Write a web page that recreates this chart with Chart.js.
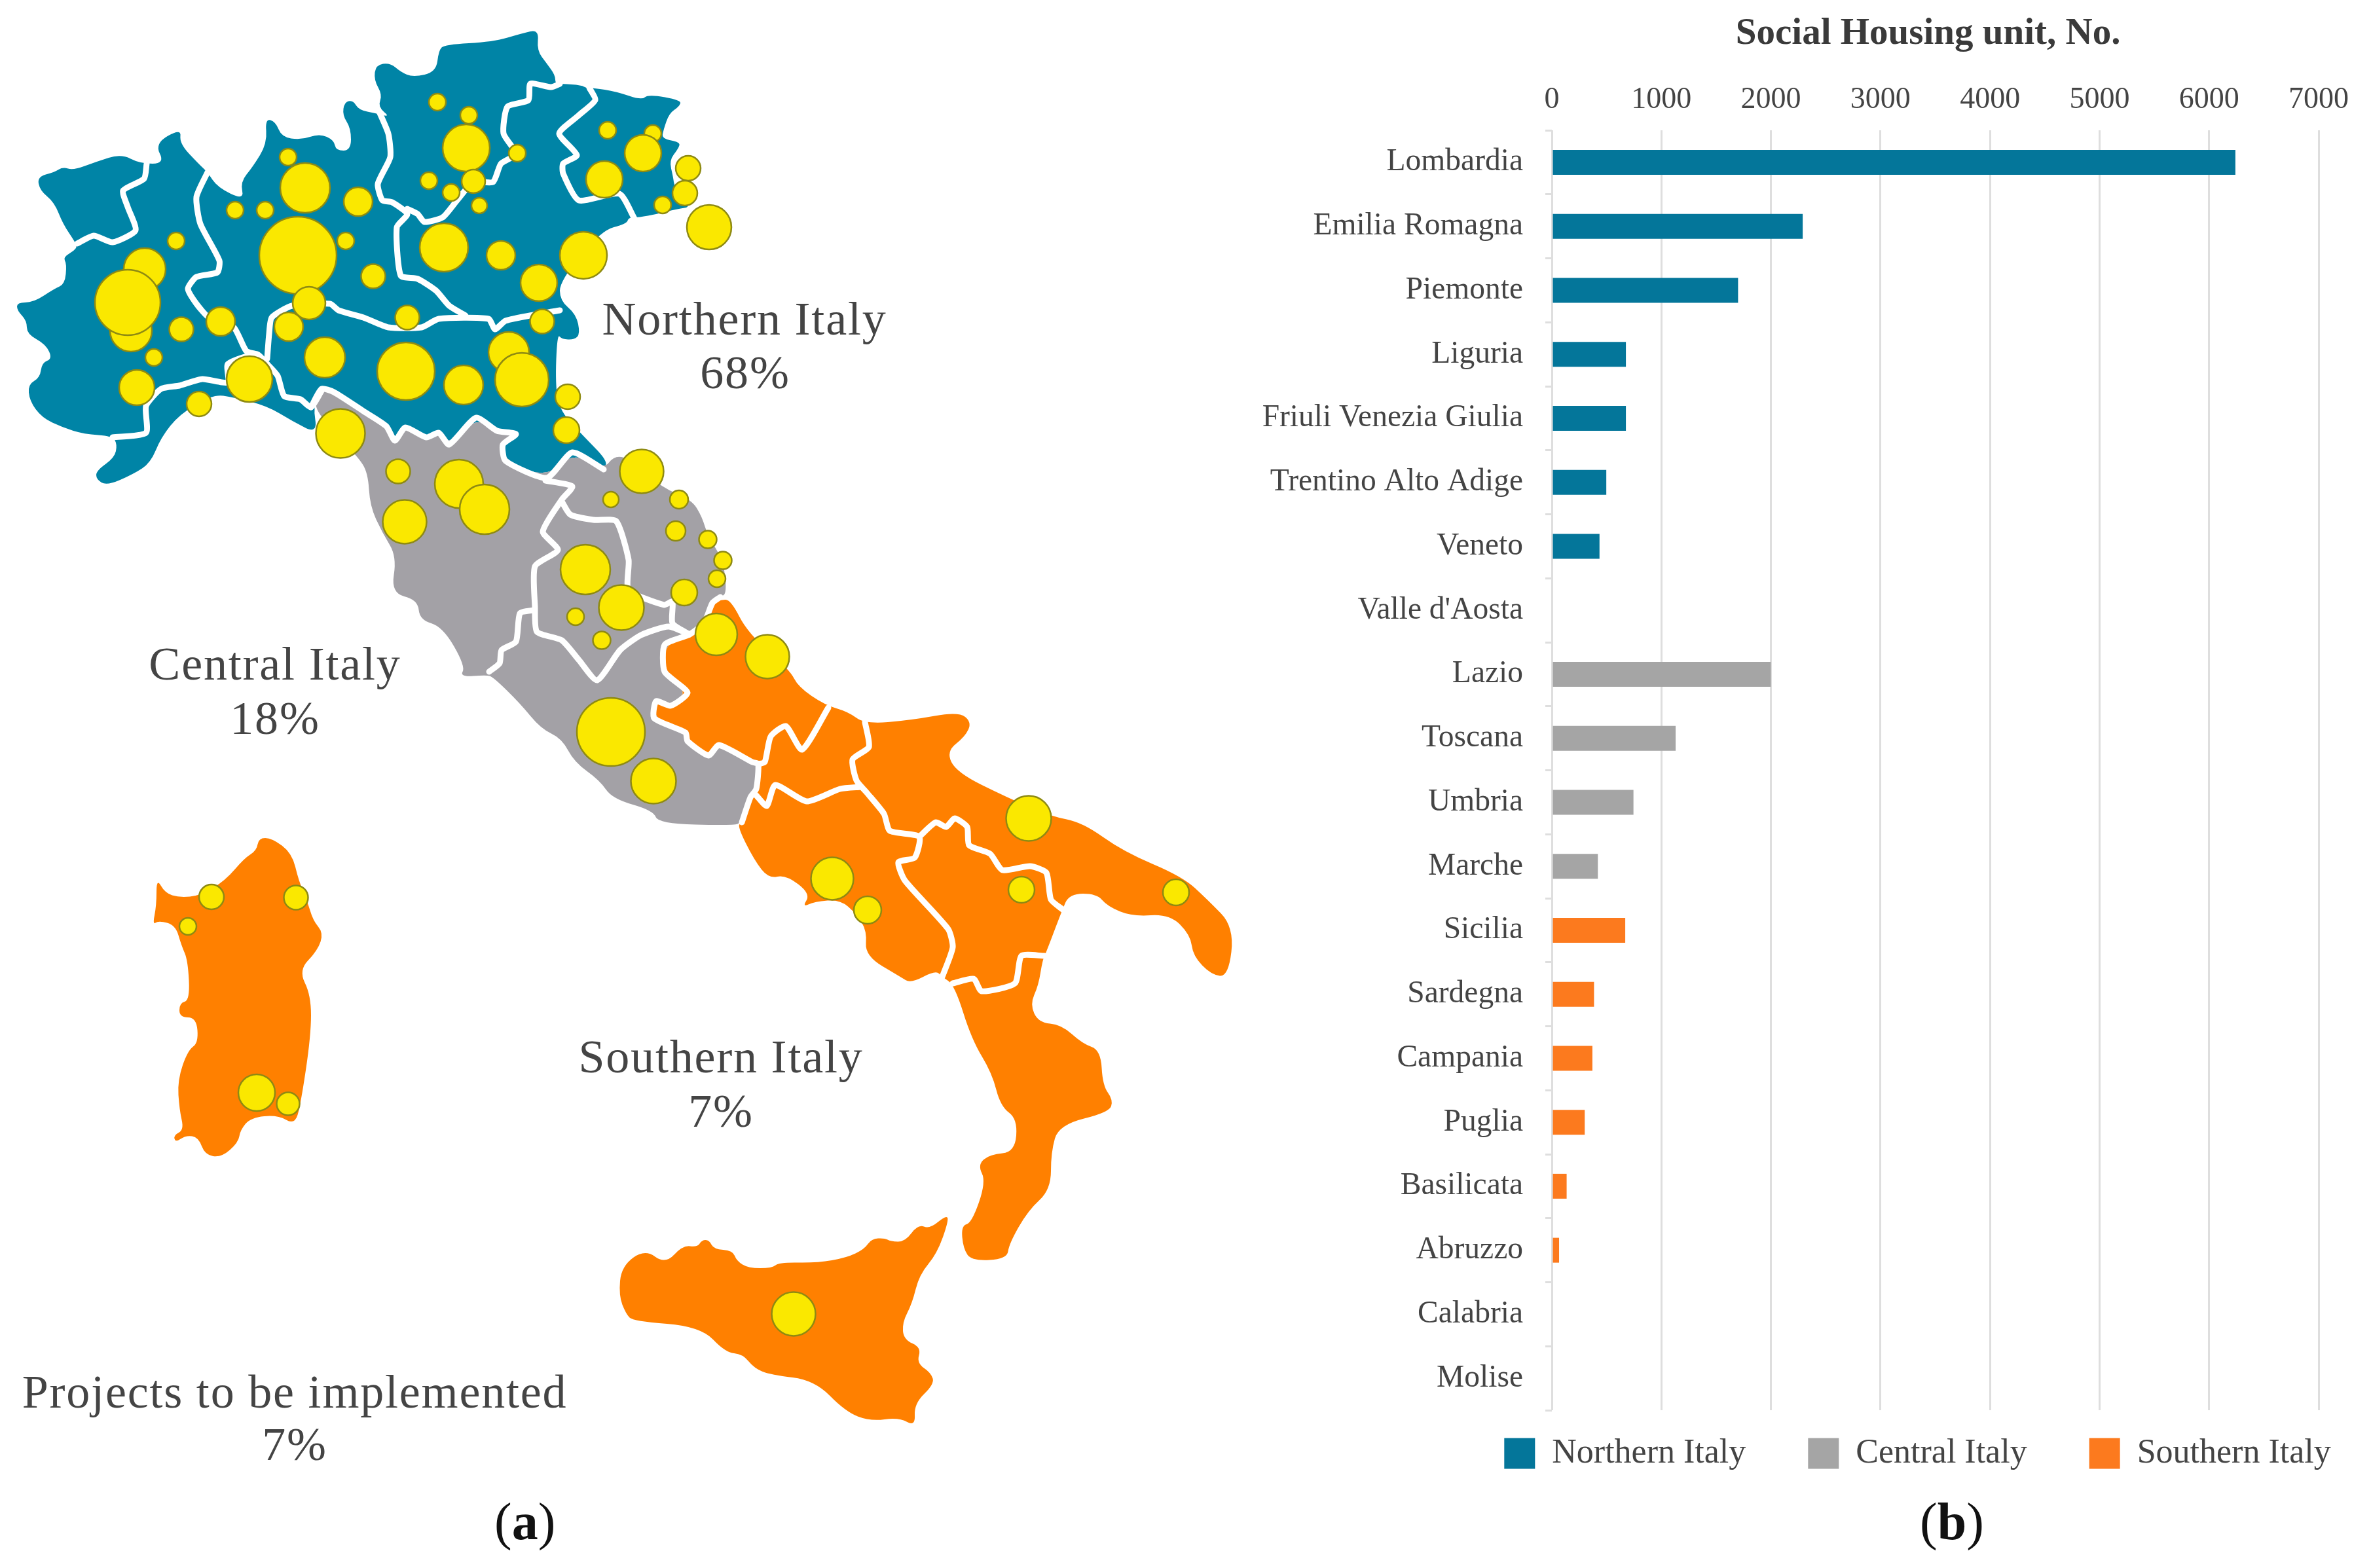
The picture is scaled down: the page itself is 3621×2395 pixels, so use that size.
<!DOCTYPE html>
<html>
<head>
<meta charset="utf-8">
<script src="https://cdn.jsdelivr.net/npm/chart.js@4/dist/chart.umd.js"></script>
<style>
    html, body { margin: 0; padding: 0; background: #fff; width: 3621px; height: 2395px; overflow: hidden; }
    canvas { position: absolute; top: 0; }
    #mapChart { left: 0; }
    #barChart { left: 1900px; }
    .caption { position: absolute; top: 2274px; font-family: "Liberation Serif", serif; font-size: 80px; line-height: 100px; color: #111; }
</style>
</head>
<body>
<canvas id="mapChart" width="1900" height="2395"></canvas>
<canvas id="barChart" width="1721" height="2395"></canvas>
<div class="caption" style="left:755px">(<b>a</b>)</div>
<div class="caption" style="left:2932px">(<b>b</b>)</div>
<script>
// ---- bar chart values ----
const categories = ['Lombardia', 'Emilia Romagna', 'Piemonte', 'Liguria', 'Friuli Venezia Giulia', 'Trentino Alto Adige', 'Veneto', "Valle d'Aosta",
    'Lazio', 'Toscana', 'Umbria', 'Marche',
    'Sicilia', 'Sardegna', 'Campania', 'Puglia', 'Basilicata', 'Abruzzo', 'Calabria', 'Molise'];
const northernValues = [6240, 2290, 1700, 676, 676, 497, 435, 0, null, null, null, null, null, null, null, null, null, null, null, null];
const centralValues = [null, null, null, null, null, null, null, null, 2000, 1130, 745, 420, null, null, null, null, null, null, null, null];
const southernValues = [null, null, null, null, null, null, null, null, null, null, null, null, 670, 385, 370, 300, 135, 66, 0, 0];
const xTicks = [0, 1000, 2000, 3000, 4000, 5000, 6000, 7000];

// ---- map outlines, in map units ----
const northOutline = [[57,270],[83,263],[96,255],[112,260],[147,247],[185,235],[214,250],[252,250],[236,219],[277,196],[274,219],[303,250],[317,263],[332,286],[373,306],[367,278],[386,255],[408,219],[405,181],[421,186],[430,209],[459,214],[488,204],[510,214],[513,230],[536,230],[536,196],[523,176],[526,156],[539,153],[548,168],[574,173],[596,179],[577,163],[584,145],[571,122],[574,99],[596,96],[612,110],[631,118],[666,110],[670,77],[679,68],[753,64],[797,51],[823,45],[820,77],[835,97],[848,115],[848,128],[858,128],[888,130],[896,135],[905,134],[942,140],[980,153],[990,144],[1041,153],[1037,163],[1022,173],[1013,199],[1011,212],[1039,217],[1036,227],[1022,245],[1028,270],[1030,286],[1057,316],[1034,319],[1003,327],[976,332],[960,332],[957,342],[918,352],[855,429],[855,459],[880,480],[886,510],[877,519],[858,518],[851,510],[848,587],[855,628],[893,668],[928,704],[922,717],[874,691],[835,730],[772,704],[768,679],[788,663],[759,658],[727,638],[686,679],[670,661],[651,668],[619,653],[603,673],[590,651],[555,628],[510,599],[491,594],[478,620],[485,663],[446,643],[408,620],[357,607],[325,602],[274,633],[246,668],[230,707],[204,724],[163,742],[147,732],[147,719],[175,699],[179,679],[172,666],[128,663],[96,653],[64,638],[45,612],[43,587],[61,577],[64,554],[80,548],[70,526],[41,510],[41,490],[26,474],[26,462],[51,462],[83,441],[99,434],[102,403],[96,393],[118,380],[115,370],[96,342],[83,309],[61,291]];
const centralOutline = [[478,617],[491,594],[510,599],[555,628],[590,651],[603,673],[619,653],[651,668],[670,661],[686,679],[727,638],[759,658],[788,663],[768,679],[772,704],[835,730],[874,691],[922,717],[938,696],[960,700],[1011,745],[1056,763],[1072,789],[1081,819],[1105,856],[1110,906],[1100,912],[1088,921],[1075,952],[1053,969],[1015,985],[1015,1026],[1050,1058],[1024,1078],[1002,1071],[999,1097],[1047,1119],[1050,1132],[1082,1154],[1098,1138],[1149,1164],[1158,1167],[1155,1205],[1146,1218],[1133,1256],[1120,1261],[1005,1258],[998,1238],[935,1220],[916,1192],[877,1164],[858,1128],[826,1113],[794,1074],[753,1034],[743,1031],[702,1034],[711,1018],[676,957],[641,947],[638,916],[597,906],[606,850],[584,814],[565,773],[562,722],[546,697],[500,650]];
const southOutline = [[1100,916],[1116,916],[1142,967],[1206,1023],[1219,1049],[1260,1077],[1295,1087],[1321,1106],[1391,1100],[1464,1087],[1484,1103],[1474,1125],[1445,1148],[1461,1180],[1538,1218],[1605,1247],[1653,1256],[1716,1301],[1806,1339],[1844,1374],[1885,1416],[1876,1492],[1850,1489],[1822,1460],[1818,1428],[1786,1396],[1729,1400],[1691,1384],[1675,1365],[1633,1365],[1621,1393],[1598,1454],[1592,1467],[1586,1505],[1573,1534],[1586,1562],[1621,1565],[1653,1594],[1681,1604],[1684,1658],[1700,1680],[1694,1699],[1617,1718],[1605,1760],[1605,1817],[1570,1849],[1541,1900],[1538,1923],[1484,1926],[1471,1907],[1468,1872],[1484,1868],[1506,1805],[1493,1779],[1512,1763],[1550,1760],[1554,1709],[1528,1690],[1515,1639],[1484,1588],[1458,1505],[1439,1492],[1429,1482],[1391,1502],[1375,1492],[1321,1460],[1324,1422],[1308,1396],[1283,1374],[1244,1377],[1225,1386],[1238,1365],[1200,1336],[1174,1342],[1152,1314],[1126,1262],[1133,1256],[1146,1218],[1155,1205],[1158,1167],[1149,1164],[1098,1138],[1082,1154],[1050,1132],[1047,1119],[999,1097],[1002,1071],[1024,1078],[1050,1058],[1015,1026],[1015,985],[1053,969],[1075,952],[1088,921]];
const sardiniaOutline = [[239,1341],[252,1364],[274,1371],[306,1368],[344,1345],[373,1311],[392,1299],[395,1280],[415,1280],[446,1303],[456,1345],[469,1375],[478,1406],[494,1425],[485,1452],[456,1482],[475,1520],[475,1581],[459,1688],[450,1718],[424,1703],[383,1707],[367,1726],[364,1745],[338,1768],[313,1764],[303,1737],[284,1734],[268,1745],[265,1734],[281,1726],[274,1695],[271,1650],[287,1604],[303,1593],[300,1554],[274,1554],[274,1532],[290,1528],[287,1467],[277,1444],[268,1413],[242,1406],[233,1413],[239,1383]];
const sicilyOutline = [[949,1934],[985,1908],[1016,1931],[1043,1902],[1065,1905],[1072,1894],[1083,1894],[1090,1908],[1119,1910],[1125,1926],[1143,1937],[1179,1937],[1190,1928],[1248,1929],[1293,1921],[1320,1908],[1331,1892],[1351,1891],[1360,1896],[1382,1897],[1402,1870],[1420,1877],[1445,1856],[1449,1864],[1431,1915],[1404,1947],[1393,1991],[1378,2020],[1380,2046],[1407,2058],[1400,2082],[1422,2097],[1427,2114],[1396,2144],[1398,2179],[1373,2165],[1329,2171],[1291,2156],[1244,2108],[1177,2100],[1152,2090],[1134,2068],[1108,2066],[1070,2026],[967,2018],[956,2007],[945,1979]];

// ---- white borders between the regions ----
const regionBorders = [
    [[118,372],[143,360],[172,370],[207,352],[195,316],[188,291],[220,273],[224,250]],
    [[317,263],[300,301],[306,342],[335,398],[332,416],[300,423],[287,441],[300,464],[319,485],[357,500],[376,536],[392,541]],
    [[172,668],[223,661],[223,620],[246,594],[274,589],[309,579],[348,584],[348,556],[392,541],[408,556],[424,574],[434,605],[459,610],[475,622],[491,597]],
    [[408,548],[411,510],[415,485],[446,467],[504,464],[517,474],[555,485],[593,500],[644,500],[670,487],[746,487],[756,503],[772,490],[820,480],[855,474]],
    [[711,482],[686,467],[666,444],[638,426],[612,421],[606,347],[622,327],[599,309],[584,306],[577,281],[596,240],[593,204],[577,166]],
    [[622,319],[638,327],[648,339],[676,332],[698,306],[723,278],[753,278],[765,250],[788,235],[769,204],[775,163],[807,153],[810,128],[842,133],[855,128]],
    [[900,134],[909,153],[884,176],[854,204],[881,237],[860,250],[860,265],[884,306],[946,296],[969,334]],
    [[922,717],[874,691],[835,730],[772,704],[768,679],[788,663],[759,658],[727,638],[686,679],[670,661],[651,668],[619,653],[603,673],[590,651],[555,628],[510,599],[491,594],[475,622]],
    [[833,734],[874,743],[858,763],[829,812],[852,840],[817,865],[817,927],[820,965],[858,978],[884,1008],[912,1039],[947,993],[979,970],[1021,957],[1053,969]],
    [[858,766],[871,786],[906,794],[941,796],[960,855],[960,901],[1014,924],[1027,919],[1027,952],[1053,969]],
    [[814,932],[794,937],[788,980],[766,993],[763,1013],[747,1026]],
    [[1100,912],[1088,921],[1075,952],[1053,969],[1015,985],[1015,1026],[1050,1058],[1024,1078],[1002,1071],[999,1097],[1047,1119],[1050,1132],[1082,1154],[1098,1138],[1149,1164],[1158,1167],[1155,1205],[1146,1218],[1133,1256]],
    [[1265,1081],[1225,1145],[1200,1109],[1177,1125],[1168,1164],[1158,1167]],
    [[1321,1103],[1327,1141],[1302,1160],[1308,1192],[1324,1211],[1350,1243],[1359,1269],[1404,1278],[1397,1310],[1372,1317],[1382,1345],[1448,1419],[1455,1447],[1439,1492]],
    [[1155,1215],[1171,1231],[1184,1199],[1232,1224],[1283,1205],[1315,1202]],
    [[1404,1278],[1429,1256],[1445,1263],[1458,1250],[1477,1263],[1480,1291],[1512,1304],[1531,1329],[1573,1323],[1598,1333],[1605,1374],[1624,1390]],
    [[1455,1502],[1487,1495],[1499,1514],[1550,1502],[1560,1460],[1595,1460]]
];

// ---- project circles ----
const spotX = [668,716,712,790,655,723,689,732,678,765,891,823,828,867,865,777,797,708,620,622,570,528,547,466,440,405,359,455,472,441,496,381,337,277,269,221,200,195,235,209,304,520,928,997,982,923,1051,1046,1012,1083,608,701,740,618,980,933,1037,1032,1081,1104,1095,1045,894,949,879,919,1094,1172,933,998,1571,1271,1325,1560,1796,323,452,287,392,440,1212];
const spotY = [156,176,226,234,276,277,294,314,378,390,390,432,491,606,657,538,580,588,567,485,422,368,308,287,240,321,321,390,463,499,546,579,491,503,368,411,505,462,546,592,617,662,199,204,234,274,257,295,313,347,720,739,778,797,720,763,763,811,824,856,884,905,870,928,942,978,969,1003,1118,1193,1250,1342,1390,1359,1363,1370,1371,1415,1669,1686,2007];
const spotR = [13,13,36,13,13,18,13,12,37,22,36,28,18.5,19,20,31,41,30,44,18.5,18.5,13,22,38,13,13,13,59,25,22,31,35,22,18.5,13,32,32,50,13,27,19,37.5,13,13,28,28,19,19,13,34,18.5,37,38,33.5,33.5,12,14,15,13.5,13.5,13,20,38,34.5,13,13.5,32,33.5,52,34.5,34.5,32.5,21,20,20,19,18.5,13,28,17.5,33.5];

// ---- map labels ----
const mapLabels = ['Northern Italy', '68%', 'Central Italy', '18%', 'Southern Italy', '7%', 'Projects to be implemented', '7%'];
const mapLabelX = [1137, 1138, 420, 420, 1101, 1101, 450, 450];
const mapLabelY = [492, 574, 1019, 1102, 1619, 1702, 2131, 2211];

const BLUE = '#0084A6';
const GREY = '#A3A1A6';
const ORANGE = '#FF8000';

function toPoints(pairs) {
    return pairs.map(p => ({x: p[0], y: p[1]}));
}

// one dataset per filled land mass, painted by the plugin below
const landShapes = [[northOutline, BLUE], [centralOutline, GREY], [southOutline, ORANGE], [sardiniaOutline, ORANGE], [sicilyOutline, ORANGE]];

const mapDatasets = [{
    type: 'bubble',
    order: 0,
    data: spotX.map((x, i) => ({x: x, y: spotY[i], r: spotR[i]})),
    backgroundColor: '#FAE800',
    borderColor: '#8E8A12',
    borderWidth: 2.5
}];
regionBorders.forEach(border => {
    mapDatasets.push({
        order: 1,
        data: toPoints(border),
        showLine: true,
        pointRadius: 0,
        tension: 0.2,
        borderColor: '#fff',
        borderWidth: 9,
        borderJoinStyle: 'round',
        borderCapStyle: 'round'
    });
});
landShapes.forEach(shape => {
    mapDatasets.push({
        order: 2,
        isLand: true,
        data: toPoints(shape[0]),
        showLine: false,
        pointRadius: 0,
        backgroundColor: shape[1]
    });
});

// closes the outline of each land mass and fills it, under everything else.
// corners are rounded a little, the coast in the figure has no hard angles
const landFill = {
    id: 'landFill',
    beforeDatasetsDraw(chart) {
        const ctx = chart.ctx;
        chart.data.datasets.forEach((ds, i) => {
            if (!ds.isLand) return;
            const pts = chart.getDatasetMeta(i).data;
            const n = pts.length;
            ctx.save();
            ctx.beginPath();
            ctx.moveTo((pts[n - 1].x + pts[0].x) / 2, (pts[n - 1].y + pts[0].y) / 2);
            pts.forEach((p, j) => {
                const next = pts[(j + 1) % n];
                ctx.quadraticCurveTo(p.x, p.y, (p.x + next.x) / 2, (p.y + next.y) / 2);
            });
            ctx.closePath();
            ctx.fillStyle = ds.backgroundColor;
            ctx.fill();
            ctx.restore();
        });
    }
};

const mapText = {
    id: 'mapText',
    afterDatasetsDraw(chart) {
        const ctx = chart.ctx;
        ctx.save();
        ctx.font = '72px "Liberation Serif"';
        ctx.letterSpacing = '1.8px';
        ctx.fillStyle = '#444';
        ctx.textAlign = 'center';
        ctx.textBaseline = 'middle';
        mapLabels.forEach((label, i) => {
            ctx.fillText(label, chart.scales.x.getPixelForValue(mapLabelX[i]), chart.scales.y.getPixelForValue(mapLabelY[i]));
        });
        ctx.restore();
    }
};

new Chart(document.getElementById('mapChart'), {
    type: 'scatter',
    data: {datasets: mapDatasets},
    options: {
        responsive: false,
        animation: false,
        events: [],
        layout: {padding: 0, autoPadding: false},
        plugins: {legend: {display: false}, tooltip: {enabled: false}},
        scales: {
            x: {type: 'linear', min: 0, max: 1900, display: false},
            y: {type: 'linear', min: 0, max: 2395, reverse: true, display: false}
        }
    },
    plugins: [landFill, mapText]
});

// moves the legend row to where it sits in the figure, and writes the axis title
const barExtras = {
    id: 'barExtras',
    afterLayout(chart) {
        const lg = chart.legend;
        lg.left += 208;
        lg.right += 208;
        lg.top = 2099;
        lg.bottom = 2395;
    },
    afterDraw(chart) {
        const ctx = chart.ctx;
        ctx.save();
        ctx.font = 'bold 57px "Liberation Serif"';
        ctx.fillStyle = '#3a3a3a';
        ctx.textAlign = 'center';
        ctx.textBaseline = 'middle';
        ctx.fillText('Social Housing unit, No.', chart.scales.x.getPixelForValue(3435), 52);
        ctx.restore();
    }
};

new Chart(document.getElementById('barChart'), {
    type: 'bar',
    data: {
        labels: categories,
        datasets: [
            {label: 'Northern Italy', data: northernValues, backgroundColor: '#04769A'},
            {label: 'Central Italy', data: centralValues, backgroundColor: '#A5A5A5'},
            {label: 'Southern Italy', data: southernValues, backgroundColor: '#FC7A1E'}
        ]
    },
    options: {
        indexAxis: 'y',
        responsive: false,
        animation: false,
        events: [],
        barThickness: 38,
        inflateAmount: 0,
        layout: {padding: {top: 0, right: 80, bottom: 200, left: 0}},
        plugins: {
            tooltip: {enabled: false},
            legend: {
                position: 'bottom',
                maxHeight: 41,
                labels: {
                    boxWidth: 47,
                    boxHeight: 47,
                    padding: 95,
                    color: '#444',
                    font: {family: '"Liberation Serif"', size: 52}
                }
            }
        },
        scales: {
            x: {
                position: 'top',
                stacked: true,
                min: 0,
                max: 7000,
                afterFit(scale) { scale.height = 199; },
                afterBuildTicks(scale) { scale.ticks = xTicks.map(v => ({value: v})); },
                grid: {color: '#DEDEDE', lineWidth: 3, drawTicks: false},
                border: {display: false},
                ticks: {color: '#444', padding: 18, maxRotation: 0, callback: v => String(v), font: {family: '"Liberation Serif"', size: 46}}
            },
            y: {
                stacked: true,
                afterFit(scale) { scale.width = 470; },
                grid: {drawOnChartArea: false, color: '#DEDEDE', lineWidth: 3, tickLength: 10},
                border: {display: false},
                ticks: {color: '#444', padding: 34, autoSkip: false, font: {family: '"Liberation Serif"', size: 47.5}}
            }
        }
    },
    plugins: [barExtras]
});
</script>
</body>
</html>
